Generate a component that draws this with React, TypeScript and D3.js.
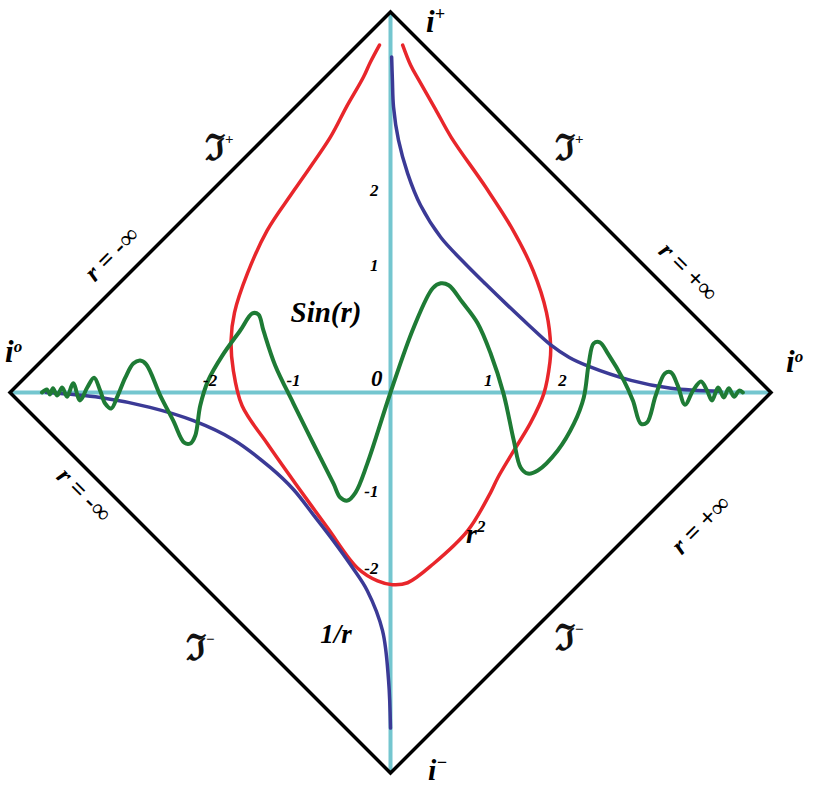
import React from "react";
import * as d3 from "d3";

// diagram coordinates: both axes run -1..1 across the diamond
const diamondCorners: [number, number][] = [[0, 1], [1, 0], [0, -1], [-1, 0]];

const xTickLabels = ["-2", "-1", "1", "2"];
const xTickPos = [-0.474, -0.255, 0.257, 0.452];
const yTickLabels = ["2", "1", "-1", "-2"];
const yTickPos = [0.532, 0.335, -0.259, -0.461];

// r^2 curve (red)
const redCurve: [number, number][] = [
  [-0.029, 0.913], [-0.053, 0.868], [-0.071, 0.829], [-0.116, 0.75], [-0.158, 0.671],
  [-0.253, 0.532], [-0.324, 0.426], [-0.376, 0.313], [-0.41, 0.21], [-0.419, 0.137],
  [-0.413, 0.058], [-0.39, -0.035], [-0.324, -0.134], [-0.25, -0.239], [-0.166, -0.355],
  [-0.087, -0.461], [-0.034, -0.495], [0.005, -0.505], [0.045, -0.5], [0.113, -0.45],
  [0.203, -0.363], [0.263, -0.263], [0.282, -0.224], [0.324, -0.153], [0.368, -0.08],
  [0.403, -0.003], [0.419, 0.08], [0.421, 0.12], [0.41, 0.21], [0.375, 0.32],
  [0.32, 0.43], [0.25, 0.54], [0.16, 0.67], [0.118, 0.745], [0.075, 0.82],
  [0.053, 0.86], [0.032, 0.913],
];

// 1/r curve (blue), two branches
const blueUpper: [number, number][] = [
  [0.003, 0.882], [0.005, 0.821], [0.008, 0.75], [0.021, 0.663], [0.045, 0.576],
  [0.079, 0.492], [0.132, 0.408], [0.19, 0.345], [0.25, 0.285], [0.31, 0.227],
  [0.36, 0.18], [0.421, 0.125], [0.47, 0.092], [0.518, 0.07], [0.632, 0.032],
  [0.737, 0.011], [0.868, 0.003],
];
const blueLower: [number, number][] = [
  [-0.905, 0], [-0.763, -0.013], [-0.632, -0.039], [-0.518, -0.074], [-0.413, -0.124],
  [-0.316, -0.197], [-0.255, -0.255], [-0.2, -0.325], [-0.15, -0.39], [-0.1, -0.46],
  [-0.061, -0.521], [-0.021, -0.626], [-0.005, -0.758], [0, -0.882],
];

// sin(r) curve (green)
const greenCurve: [number, number][] = [
  [-0.916, 0], [-0.903, 0.008], [-0.895, -0.005], [-0.887, 0.011], [-0.876, -0.008],
  [-0.863, 0.013], [-0.85, -0.011], [-0.834, 0.024], [-0.816, -0.021], [-0.797, 0.013],
  [-0.779, 0.039], [-0.763, 0.005], [-0.75, -0.029], [-0.734, -0.042], [-0.718, -0.011],
  [-0.697, 0.039], [-0.676, 0.076], [-0.658, 0.084], [-0.642, 0.074], [-0.605, -0.008],
  [-0.571, -0.074], [-0.542, -0.132], [-0.526, -0.134], [-0.513, -0.113], [-0.5, -0.034],
  [-0.479, 0.032], [-0.442, 0.097], [-0.395, 0.163], [-0.363, 0.208], [-0.347, 0.205],
  [-0.334, 0.163], [-0.303, 0.071], [-0.255, -0.029], [-0.203, -0.134], [-0.15, -0.239],
  [-0.132, -0.276], [-0.113, -0.284], [-0.092, -0.263], [-0.061, -0.187], [0, 0],
  [0.061, 0.171], [0.111, 0.274], [0.132, 0.287], [0.153, 0.282], [0.189, 0.237],
  [0.229, 0.182], [0.263, 0.103], [0.297, -0.003], [0.324, -0.126], [0.342, -0.197],
  [0.361, -0.213], [0.387, -0.205], [0.439, -0.153], [0.482, -0.082], [0.508, -0.013],
  [0.521, 0.076], [0.534, 0.129], [0.55, 0.132], [0.571, 0.103], [0.613, 0.032],
  [0.637, -0.021], [0.658, -0.082], [0.674, -0.079], [0.697, -0.008], [0.721, 0.05],
  [0.737, 0.053], [0.755, 0.018], [0.774, -0.032], [0.795, 0.005], [0.816, 0.029],
  [0.832, 0.005], [0.845, -0.021], [0.861, 0.013], [0.876, -0.013], [0.889, 0.011],
  [0.903, -0.011], [0.916, 0.005], [0.926, 0],
];

const serif = "'Liberation Serif', 'Times New Roman', serif";
const frak = "'DejaVu Serif', serif";

export default function App() {
  const x = d3.scaleLinear().domain([-1, 1]).range([10, 771]);
  const y = d3.scaleLinear().domain([-1, 1]).range([773, 12]);

  const curve = d3
    .line<[number, number]>()
    .x((d) => x(d[0]))
    .y((d) => y(d[1]))
    .curve(d3.curveCatmullRom.alpha(0.5));
  const straight = d3
    .line<[number, number]>()
    .x((d) => x(d[0]))
    .y((d) => y(d[1]));

  const labelStyle = { fontFamily: serif, fontWeight: "bold", fontStyle: "italic" } as const;

  const scri = (cx: number, cy: number, sign: string) => (
    <text x={cx} y={cy} fontFamily={frak} fontWeight="bold" fontSize={36} fill="#111">
      ℑ<tspan dy={-16} fontSize={15} fontFamily={serif}>{sign}</tspan>
    </text>
  );

  return (
    <svg width={815} height={787} style={{ position: "absolute", left: 0, top: 0, background: "#fff" }}>
      {/* axes */}
      <line x1={x(-1)} x2={x(1)} y1={y(0)} y2={y(0)} stroke="#74c6cf" strokeWidth={4} />
      <line x1={x(0)} x2={x(0)} y1={y(1)} y2={y(-1)} stroke="#74c6cf" strokeWidth={4} />
      {/* diamond */}
      <path d={straight(diamondCorners) + "Z"} fill="none" stroke="#000" strokeWidth={3.5} strokeLinejoin="miter" />

      <path d={curve(redCurve) || ""} fill="none" stroke="#e8262b" strokeWidth={3.5} strokeLinecap="round" />
      <path d={curve(blueUpper) || ""} fill="none" stroke="#3b3a96" strokeWidth={3.5} strokeLinecap="round" />
      <path d={curve(blueLower) || ""} fill="none" stroke="#3b3a96" strokeWidth={3.5} strokeLinecap="round" />
      <path d={curve(greenCurve) || ""} fill="none" stroke="#1e7b35" strokeWidth={4} strokeLinecap="round" strokeLinejoin="round" />

      {/* tick labels */}
      {xTickLabels.map((t, i) => (
        <text key={"x" + t} x={x(xTickPos[i])} y={y(0) - 7} textAnchor="middle" fontSize={17} {...labelStyle}>
          {t}
        </text>
      ))}
      {yTickLabels.map((t, i) => (
        <text key={"y" + t} x={x(0) - 12} y={y(yTickPos[i]) + 6} textAnchor="end" fontSize={17} {...labelStyle}>
          {t}
        </text>
      ))}
      <text x={x(0) - 8} y={y(0) - 7} textAnchor="end" fontSize={23} {...labelStyle}>0</text>

      {/* curve labels */}
      <text x={326} y={322} textAnchor="middle" fontSize={29} {...labelStyle}>Sin(r)</text>
      <text x={466} y={543} fontSize={28} {...labelStyle}>
        r<tspan dy={-11} fontSize={17}>2</tspan>
      </text>
      <text x={336} y={643} textAnchor="middle" fontSize={27} {...labelStyle}>1/r</text>

      {/* vertices */}
      <text x={426} y={32} fontSize={31} {...labelStyle}>
        i<tspan dy={-12} fontSize={18}>+</tspan>
      </text>
      <text x={428} y={780} fontSize={30} {...labelStyle}>
        i<tspan dy={-12} fontSize={18}>−</tspan>
      </text>
      <text x={5} y={362} fontSize={31} {...labelStyle}>
        i<tspan dy={-10} fontSize={17}>o</tspan>
      </text>
      <text x={786} y={372} fontSize={31} {...labelStyle}>
        i<tspan dy={-10} fontSize={17}>o</tspan>
      </text>

      {/* null infinity */}
      {scri(205, 160, "+")}
      {scri(555, 160, "+")}
      {scri(186, 660, "−")}
      {scri(555, 650, "−")}

      {/* r = ±inf labels */}
      <text transform="translate(112,254) rotate(-45)" textAnchor="middle" dy={8} fontSize={26} {...labelStyle}>
        r = -∞
      </text>
      <text transform="translate(688,272) rotate(45)" textAnchor="middle" dy={8} fontSize={26} {...labelStyle}>
        r = +∞
      </text>
      <text transform="translate(84,495) rotate(45)" textAnchor="middle" dy={8} fontSize={26} {...labelStyle}>
        r = -∞
      </text>
      <text transform="translate(701,525) rotate(-45)" textAnchor="middle" dy={8} fontSize={26} {...labelStyle}>
        r = +∞
      </text>
    </svg>
  );
}
